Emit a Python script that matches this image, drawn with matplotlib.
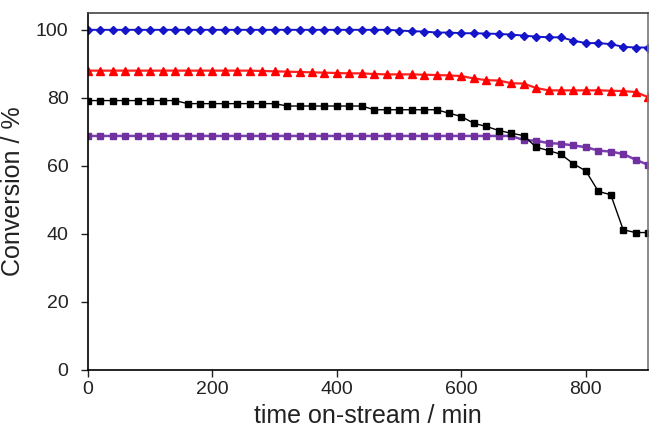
"""Conversion vs time on-stream for four catalysts."""
import matplotlib.pyplot as plt
import numpy as np

# time on-stream, min (one point every 20 min)
time_min = np.arange(0, 901, 20)

conv_blue = [100.0] * 25 + [99.8, 99.6, 99.5, 99.2, 99.2, 99.0, 99.0, 98.9,
                            98.8, 98.6, 98.3, 98.0, 97.8, 97.8, 96.8, 96.1,
                            96.1, 95.8, 95.0, 94.8, 94.8]
conv_red = [88.0] * 14 + [87.9, 87.8, 87.7, 87.6, 87.5, 87.4, 87.3, 87.2,
                          87.2, 87.0, 86.9, 86.9, 86.9, 86.8, 86.7, 86.6,
                          86.4, 85.7, 85.2, 85.1, 84.3, 84.2, 82.9, 82.2,
                          82.2, 82.2, 82.2, 82.2, 82.1, 82.0, 81.7, 80.2]
conv_black = ([79.2] * 8 + [78.3] * 8 + [77.6] * 7 + [76.5] * 6
              + [75.5, 74.5, 72.5, 71.6, 70.4, 69.6, 68.9, 65.5, 64.5, 63.4,
                 60.6, 58.5, 52.5, 51.5, 41.2, 40.4, 40.4])
conv_purple = [68.8] * 35 + [67.6, 67.4, 66.7, 66.5, 66.0, 65.5, 64.5, 64.2,
                             63.5, 61.8, 60.3]


def main():
    plt.rcParams['font.family'] = ['Liberation Sans', 'DejaVu Sans']
    fig = plt.figure(figsize=(6.59, 4.42), dpi=100)
    ax = fig.add_axes([0.1335, 0.163, 0.85, 0.808])

    ax.plot(time_min, conv_blue, color='#1414c8', lw=1.4, marker='D',
            ms=4.2, mec='#1414c8')
    ax.plot(time_min, conv_red, color='#ff2020', lw=1.6, marker='^',
            ms=5.5, mec='#ff0000', mfc='#ff0000')
    ax.plot(time_min, conv_purple, color='#7a3fb0', lw=1.8, marker='s',
            ms=4.8, mec='#7030a0', mfc='#7030a0')
    ax.plot(time_min, conv_black, color='black', lw=1.0, marker='s',
            ms=4.3)

    ax.set_xlim(0, 900)
    ax.set_ylim(0, 105)
    ax.set_xticks([0, 200, 400, 600, 800])
    ax.set_yticks([0, 20, 40, 60, 80, 100])
    ax.tick_params(axis='both', direction='out', length=5, width=1,
                   labelsize=14, colors='#222222')
    ax.tick_params(axis='x', pad=3)
    ax.tick_params(axis='y', pad=9)
    for spine in ax.spines.values():
        spine.set_linewidth(1.2)
    ax.spines['right'].set_color('#777777')
    ax.spines['top'].set_color('#444444')

    ax.set_xlabel('time on-stream / min', fontsize=18, color='#222222',
                  labelpad=4)
    ax.set_ylabel('Conversion / %', fontsize=18, color='#222222',
                  labelpad=8)

    fig.savefig('out.png', dpi=100)


if __name__ == '__main__':
    main()
